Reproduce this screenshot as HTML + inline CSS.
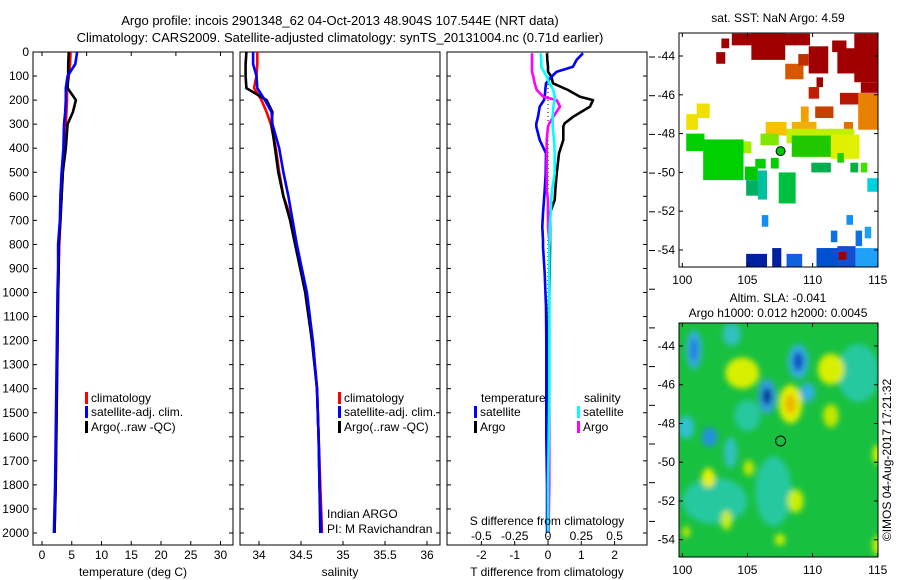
<!DOCTYPE html>
<html><head><meta charset="utf-8">
<style>
html,body{margin:0;padding:0;background:#fff;}
svg{display:block;font-family:"Liberation Sans",sans-serif;}
text{font-size:12px;fill:#000;}
</style></head>
<body>
<svg id="fig" width="900" height="580" viewBox="0 0 900 580" xmlns="http://www.w3.org/2000/svg">
<defs>
<filter id="blur" x="-50%" y="-50%" width="200%" height="200%"><feGaussianBlur stdDeviation="3"/></filter>
<clipPath id="clipTop"><rect x="679" y="33" width="199" height="234"/></clipPath>
<clipPath id="clipBot"><rect x="679" y="323" width="199" height="234"/></clipPath>
<clipPath id="clipP1"><rect x="33" y="52" width="200" height="493"/></clipPath>
<clipPath id="clipP2"><rect x="240" y="52" width="200" height="493"/></clipPath>
<clipPath id="clipP3"><rect x="447" y="52" width="200" height="493"/></clipPath>
</defs>
<text x="340" y="25" text-anchor="middle" style="font-size:13px">Argo profile: incois 2901348_62 04-Oct-2013 48.904S 107.544E (NRT data)</text>
<text x="340" y="42" text-anchor="middle" style="font-size:13px">Climatology: CARS2009. Satellite-adjusted climatology: synTS_20131004.nc (0.71d earlier)</text>
<g id="g1"></g>
<g id="g2"></g>
<g id="g3"></g>
<g id="gm1"></g>
<g id="gm2"></g>
<text x="0" y="0" transform="translate(891,460) rotate(-90)" text-anchor="middle">©IMOS 04-Aug-2017 17:21:32</text>
</svg>
<script>
// ---- data ----
const depths=[0,50,100,150,200,250,300,400,500,600,700,800,900,1000,1200,1400,1600,1800,2000];
const climT=[4.8,4.7,4.5,4.2,4.2,4.1,4.0,3.8,3.5,3.3,3.1,2.9,2.8,2.7,2.6,2.5,2.4,2.3,2.1];
const satT=[5.9,5.6,4.3,4.0,4.0,3.9,3.7,3.6,3.3,3.1,3.0,2.7,2.7,2.6,2.5,2.4,2.3,2.2,2.0];
const argoT=[4.5,4.4,4.4,4.3,5.7,5.2,4.3,4.0,3.5,3.3,3.1,2.8,2.8,2.7,2.6,2.5,2.4,2.3,2.1];
const climS=[33.98,33.98,33.97,33.94,34.03,34.09,34.14,34.20,34.24,34.29,34.39,34.44,34.49,34.56,34.64,34.69,34.71,34.73,34.75];
const satS=[33.93,33.93,33.97,33.98,34.07,34.15,34.16,34.24,34.29,34.35,34.40,34.45,34.51,34.57,34.64,34.69,34.71,34.72,34.74];
const argoS=[33.85,33.84,33.84,33.85,34.09,34.16,34.15,34.19,34.23,34.29,34.37,34.43,34.49,34.55,34.63,34.69,34.71,34.72,34.73];
const dDepths=[5,33,61,82,102,130,158,186,200,227,269,297,310,366,421,505,574,615,670,726,782,810,920,1060,1200,1400,1600,1800,1950,2000];
const satTdiff=[1.05,0.86,0.75,0.26,0.11,-0.06,-0.08,-0.1,-0.12,-0.25,-0.3,-0.35,-0.35,-0.25,-0.06,-0.07,-0.1,-0.12,-0.15,-0.17,-0.15,-0.15,-0.1,-0.06,-0.05,-0.05,-0.05,-0.03,-0.03,-0.03];
const argoTdiff=[-0.03,-0.02,0,0,0.1,0.15,0.6,0.96,1.35,1.26,0.76,0.5,0.46,0.46,0.33,0.26,0.22,0.2,0.06,0.06,0.06,0.06,0.05,0.03,0.02,0.02,0.01,0,0,0];
const argoSdiff=[-0.12,-0.12,-0.12,-0.12,-0.11,-0.1,-0.085,-0.035,0.065,0.09,0.04,0.01,0,-0.01,-0.01,-0.01,-0.01,0,0,0,0.01,0.01,0.01,0.01,0.01,0.01,0.01,0.01,0.005,0.005];
const satSdiff=[-0.055,-0.05,-0.05,-0.03,-0.01,0.01,0.04,0.05,0.05,0.04,0.035,0.035,0.035,0.045,0.05,0.05,0.03,0.025,0.02,0.013,0.013,0.01,0.01,0.01,0.01,0.01,0.005,0,0,0];
const depthTicks=[0,100,200,300,400,500,600,700,800,900,1000,1100,1200,1300,1400,1500,1600,1700,1800,1900,2000];
const tempTicks=[0,5,10,15,20,25,30];
const salTicks=[34,34.5,35,35.5,36];
const tdTicks=[-2,-1,0,1,2];
const sdTicks=[-0.5,-0.25,0,0.25,0.5];
const sdLabels=["-0.5","-0.25","0","0.25","0.5"];
const lonTicks=[100,105,110,115];
const latTicks=[-44,-46,-48,-50,-52,-54];
// SST map cells: [lon0,lat0,lon1,lat1,color]
const sstCells=[
[103.8,-42.85,109.8,-43.45,"#a00000"],[105.3,-42.85,107.9,-44.2,"#a00000"],[103.0,-43.1,103.6,-43.6,"#a00000"],
[102.6,-43.8,103.3,-44.4,"#a00000"],[109.7,-43.5,111.2,-44.9,"#a00000"],[110.3,-45.1,110.8,-45.6,"#a00000"],
[111.5,-43.2,112.6,-43.8,"#a00000"],[111.9,-43.6,113.3,-44.9,"#a00000"],[113.2,-42.85,115.1,-45.35,"#a00000"],
[113.7,-45.35,115.1,-45.9,"#a00000"],[109.7,-45.6,110.5,-46.2,"#c02000"],[112.1,-45.9,113.9,-46.5,"#b81800"],
[107.9,-44.4,109.3,-45.2,"#d85800"],[108.9,-43.9,109.7,-44.5,"#c03000"],
[109.1,-46.6,109.7,-47.4,"#f0a000"],[110.2,-46.6,111.6,-47.2,"#c84000"],[112.4,-47.4,113.1,-48.1,"#e07000"],
[113.5,-45.9,115.1,-47.8,"#e88000"],[106.4,-47.4,108.0,-48.1,"#f8c000"],[108.4,-47.4,110.3,-48.0,"#f0b000"],
[101.1,-46.45,102.1,-47.2,"#f0e000"],[100.3,-47.0,101.2,-47.8,"#f0e000"],
[108.0,-47.75,113.2,-48.5,"#c0f000"],[111.4,-48.05,113.6,-49.3,"#e0f000"],[104.0,-48.4,105.3,-49.0,"#a0f000"],
[106.0,-48.0,107.4,-48.6,"#80e800"],
[100.3,-48.0,101.7,-48.9,"#00d000"],[101.6,-48.3,104.7,-50.4,"#00d000"],[104.8,-49.7,105.8,-50.4,"#00c800"],
[105.6,-49.3,106.4,-49.8,"#00d000"],[106.8,-49.25,107.4,-49.8,"#00d000"],[108.4,-48.1,111.4,-49.2,"#20c800"],
[104.9,-50.4,106.5,-51.2,"#00b060"],[107.4,-50.0,108.7,-51.6,"#00c040"],[105.8,-49.9,106.5,-51.4,"#00c0a0"],
[109.9,-49.5,111.4,-50.0,"#00b050"],[111.9,-49.0,112.4,-49.5,"#20d000"],[112.9,-49.5,113.5,-50.0,"#00b040"],
[113.7,-49.5,114.2,-50.0,"#40e000"],[114.2,-50.3,115.1,-51.0,"#00d0e0"],
[106.1,-52.2,106.6,-52.8,"#1090f0"],[112.6,-52.2,113.1,-52.7,"#1090f0"],[111.4,-53.0,111.9,-53.6,"#1070e0"],
[113.3,-53.0,113.8,-53.8,"#1070e0"],[114.0,-52.8,114.5,-53.4,"#20a0f0"],
[104.9,-54.2,106.5,-54.9,"#0020a0"],[106.9,-53.9,107.6,-54.9,"#0020a0"],[108.0,-54.2,109.2,-54.9,"#1060e0"],
[110.3,-53.9,112.1,-54.9,"#0050d0"],[111.9,-53.8,113.3,-54.9,"#1050d0"],[113.3,-53.9,115.1,-54.9,"#20a0f8"],
[112.0,-54.1,112.6,-54.5,"#a00000"]
];
// SLA map features: [lon, lat, rx(deg lon), ry(deg lat), color]
const slaBlobs=[
[102.5,-52.0,2.5,1.2,"#28c8a0"],[107.0,-51.5,1.4,1.8,"#28c8a0"],[113.5,-45.4,1.6,1.5,"#28c8a0"],[105.0,-47.6,1.0,0.8,"#28c8a0"],
[100.3,-48.2,0.6,0.6,"#30c0d0"],[103.8,-43.4,0.7,0.6,"#30c0c0"],[103.7,-49.5,0.5,0.8,"#30c0c0"],
[100.9,-44.2,0.6,1.0,"#30b0e0"],[100.9,-44.2,0.25,0.6,"#2070e0"],
[102.1,-48.7,0.6,0.5,"#2090e0"],[109.6,-46.4,0.6,0.5,"#30b0e0"],
[108.9,-44.8,0.8,0.9,"#30b0e0"],[108.9,-44.8,0.4,0.5,"#1050c0"],
[106.5,-46.6,0.7,0.9,"#30a0e0"],[106.5,-46.6,0.35,0.45,"#003090"],
[104.6,-45.4,1.3,0.8,"#d8f000"],[111.4,-45.2,1.0,0.8,"#d8f000"],[108.3,-47.0,0.9,1.0,"#e0f000"],[108.3,-47.0,0.4,0.5,"#f0b000"],
[111.4,-47.6,0.6,0.6,"#c0e800"],[102.0,-50.8,0.5,0.5,"#e8f000"],[105.1,-50.3,0.4,0.4,"#c0e800"],
[108.7,-52.0,0.6,0.6,"#c8f000"],[103.4,-53.0,0.4,0.5,"#c8f000"],[100.3,-53.6,0.3,0.3,"#c0e800"],
[107.5,-54.0,0.4,0.3,"#c8f000"],[115.0,-49.6,0.4,0.5,"#d0f000"],[115.0,-54.3,0.4,0.5,"#c8f000"]
];
// ---- helpers ----
const NS="http://www.w3.org/2000/svg";
function mk(parent,tag,attrs){const e=document.createElementNS(NS,tag);for(const k in attrs)e.setAttribute(k,attrs[k]);parent.appendChild(e);return e;}
const yD=d=>52+d*0.2405;
const xT=t=>42+t*5.95;
const xS=s=>259+(s-34)*84;
const xTd=t=>548+t*33.3;
const xSd=s=>548+s*133.2;
const mLon=lon=>682.3+(lon-100)*13.03;
const mLatTop=lat=>56+(-44-lat)*19.4;
const mLatBot=lat=>346+(-44-lat)*19.37;

function panel(g,x0,name,showDepthLabels){
  const r=mk(g,'rect',{x:x0,y:52,width:200,height:493,fill:'none',stroke:'#000','stroke-width':1});
  
  
  depthTicks.forEach(d=>{
    const t1=mk(g,'line',{x1:x0,x2:x0+4,y1:yD(d),y2:yD(d),stroke:'#000'});
    
    
    const t2=mk(g,'line',{x1:x0+200,x2:x0+196,y1:yD(d),y2:yD(d),stroke:'#000'});
    
    
    if(showDepthLabels){
      const tx=mk(g,'text',{x:29,y:yD(d)+4,'text-anchor':'end'});
      tx.textContent=d;
      
      
    }
  });
}
function xticks(g,vals,labels,fx,name){
  vals.forEach((v,i)=>{
    const l=mk(g,'line',{x1:fx(v),x2:fx(v),y1:545,y2:541,stroke:'#000'});
    
    
    const t=mk(g,'text',{x:fx(v),y:559,'text-anchor':'middle'});
    t.textContent=labels[i];
    
    
  });
}
function line(g,xs,ds,fx,color,name,clip){
  const pts=xs.map((v,i)=>fx(v).toFixed(1)+','+yD(ds[i]).toFixed(1)).join(' ');
  const p=mk(g,'polyline',{points:pts,fill:'none',stroke:color,'stroke-width':2.6,'stroke-linejoin':'round','clip-path':'url(#'+clip+')'});
  
  
}
function legend(g,x,y,color,label){
  const m=mk(g,'rect',{x:x,y:y-10,width:3,height:12,fill:color});
  
  
  const t=mk(g,'text',{x:x+6,y:y});
  t.textContent=label;
  
  
}
function text(g,x,y,s,name,anchor){
  const t=mk(g,'text',{x:x,y:y,'text-anchor':anchor||'start'});
  t.textContent=s;
  
  
}
// ---- panel 1 temperature ----
const g1=document.getElementById('g1');
panel(g1,33,'temperature-panel',true);
xticks(g1,tempTicks,tempTicks.map(String),xT,'temperature-x');
[0,7.5,15,22.5,30].forEach(v=>{const l=mk(g1,'line',{x1:xT(v),x2:xT(v),y1:52,y2:56,stroke:'#000'});});
line(g1,climT,depths,xT,'#f00','temperature-climatology-line','clipP1');
line(g1,argoT,depths,xT,'#000','temperature-argo-line','clipP1');
line(g1,satT,depths,xT,'#00f','temperature-satellite-line','clipP1');
legend(g1,85,402,'#f00','climatology');
legend(g1,85,416,'#00f','satellite-adj. clim.');
legend(g1,85,431,'#000','Argo(..raw -QC)');
text(g1,133,576,'temperature (deg C)','temperature-x-axis-title','middle');
// ---- panel 2 salinity ----
const g2=document.getElementById('g2');
panel(g2,240,'salinity-panel',false);
xticks(g2,salTicks,salTicks.map(String),xS,'salinity-x');
line(g2,climS,depths,xS,'#f00','salinity-climatology-line','clipP2');
line(g2,argoS,depths,xS,'#000','salinity-argo-line','clipP2');
line(g2,satS,depths,xS,'#00f','salinity-satellite-line','clipP2');
legend(g2,338,402,'#f00','climatology');
legend(g2,338,416,'#00f','satellite-adj. clim.');
legend(g2,338,431,'#000','Argo(..raw -QC)');
text(g2,327,518,'Indian ARGO','institution-label');
text(g2,327,533,'PI: M Ravichandran','pi-label');
text(g2,340,576,'salinity','salinity-x-axis-title','middle');
// ---- panel 3 differences ----
const g3=document.getElementById('g3');
panel(g3,447,'difference-panel',false);
xticks(g3,tdTicks,tdTicks.map(String),xTd,'t-diff-x');
for(let y=57;y<548;y+=38.7){const l=mk(g3,'line',{x1:649,x2:655,y1:y,y2:y,stroke:'#000'});}
const zl=mk(g3,'line',{x1:xTd(0),x2:xTd(0),y1:52,y2:545,stroke:'#000','stroke-dasharray':'1,3'});


line(g3,argoTdiff,dDepths,xTd,'#000','t-diff-argo-line','clipP3');
line(g3,satTdiff,dDepths,xTd,'#00f','t-diff-satellite-line','clipP3');
line(g3,argoSdiff,dDepths,xSd,'#f0f','s-diff-argo-line','clipP3');
line(g3,satSdiff,dDepths,xSd,'#0ff','s-diff-satellite-line','clipP3');
text(g3,481,402,'temperature','diff-legend-temperature-header');
text(g3,584,402,'salinity','diff-legend-salinity-header');
legend(g3,474,416,'#00f','satellite');
legend(g3,474,431,'#000','Argo');
legend(g3,577,416,'#0ff','satellite');
legend(g3,577,431,'#f0f','Argo');
text(g3,547,525,'S difference from climatology','s-diff-axis-title','middle');
sdTicks.forEach((v,i)=>text(g3,xSd(v),540,sdLabels[i],'s-diff-tick-label','middle'));
text(g3,547,576,'T difference from climatology','t-diff-x-axis-title','middle');
// ---- maps ----
function mapAxes(g,top,fy,name){
  const r=mk(g,'rect',{x:679,y:top,width:199,height:234,fill:'none',stroke:'#000'});
  
  
  lonTicks.forEach(v=>{
    const a=mk(g,'line',{x1:mLon(v),x2:mLon(v),y1:top+234,y2:top+230,stroke:'#000'});
    
    
    const b=mk(g,'line',{x1:mLon(v),x2:mLon(v),y1:top,y2:top+4,stroke:'#000'});
    
    
    text(g,mLon(v),top+251,String(v),'lon-tick-label','middle');
  });
  latTicks.forEach(v=>{
    const a=mk(g,'line',{x1:679,x2:683,y1:fy(v),y2:fy(v),stroke:'#000'});
    
    
    const b=mk(g,'line',{x1:878,x2:874,y1:fy(v),y2:fy(v),stroke:'#000'});
    
    
    text(g,675,fy(v)+4,String(v),'lat-tick-label','end');
  });
}
const gm1=document.getElementById('gm1');
text(gm1,778,22,'sat. SST: NaN Argo: 4.59','sst-map-title','middle');
const cg=mk(gm1,'g',{'clip-path':'url(#clipTop)'});
sstCells.forEach(c=>{
  const x0=mLon(c[0]),x1=mLon(c[2]),y0=mLatTop(c[1]),y1=mLatTop(c[3]);
  const r=mk(cg,'rect',{x:Math.min(x0,x1),y:Math.min(y0,y1),width:Math.abs(x1-x0),height:Math.abs(y1-y0),fill:c[4]});
  
  
});
const c1=mk(gm1,'circle',{cx:mLon(107.544),cy:mLatTop(-48.904),r:4.5,fill:'#00c800',stroke:'#000','stroke-width':1});


mapAxes(gm1,33,mLatTop,'sst-map');

const gm2=document.getElementById('gm2');
text(gm2,778,302,'Altim. SLA: -0.041','sla-map-title','middle');
text(gm2,778,317,'Argo h1000: 0.012 h2000: 0.0045','sla-map-subtitle','middle');
const bg=mk(gm2,'g',{'clip-path':'url(#clipBot)'});
const base=mk(bg,'rect',{x:679,y:323,width:199,height:234,fill:'#18c040'});


const bl=mk(bg,'g',{filter:'url(#blur)'});
slaBlobs.forEach(b=>{
  const e=mk(bl,'ellipse',{cx:mLon(b[0]),cy:mLatBot(b[1]),rx:b[2]*13.03,ry:b[3]*19.37,fill:b[4]});
  
  
});
const c2=mk(gm2,'circle',{cx:mLon(107.544),cy:mLatBot(-48.904),r:5,fill:'none',stroke:'#000','stroke-width':1});


mapAxes(gm2,323,mLatBot,'sla-map');
</script>
</body></html>
